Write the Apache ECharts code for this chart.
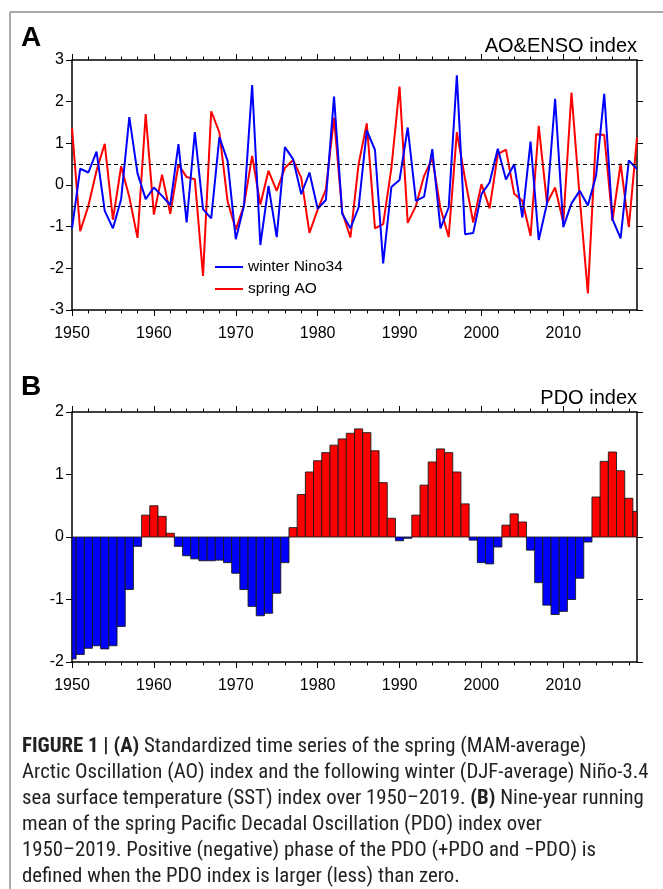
<!DOCTYPE html>
<html><head><meta charset="utf-8">
<script src="https://cdn.jsdelivr.net/npm/echarts@6/dist/echarts.min.js"></script>
<style>html,body{margin:0;padding:0;background:#fff}#chart{width:663px;height:889px}</style>
</head><body><div id="chart"></div>
<script>
// ---------- data ----------
const years = [1950,1951,1952,1953,1954,1955,1956,1957,1958,1959,
  1960,1961,1962,1963,1964,1965,1966,1967,1968,1969,
  1970,1971,1972,1973,1974,1975,1976,1977,1978,1979,
  1980,1981,1982,1983,1984,1985,1986,1987,1988,1989,
  1990,1991,1992,1993,1994,1995,1996,1997,1998,1999,
  2000,2001,2002,2003,2004,2005,2006,2007,2008,2009,
  2010,2011,2012,2013,2014,2015,2016,2017,2018,2019];

const winterNino34 = [-1.04,0.39,0.30,0.80,-0.62,-1.04,-0.34,1.63,0.28,-0.34,
  -0.06,-0.26,-0.48,0.98,-0.90,1.27,-0.58,-0.80,1.15,0.58,
  -1.30,-0.50,2.40,-1.44,-0.02,-1.25,0.91,0.62,-0.22,0.30,
  -0.57,-0.36,2.12,-0.69,-1.04,-0.54,1.31,0.84,-1.88,-0.05,
  0.12,1.38,-0.38,-0.28,0.86,-1.04,-0.54,2.63,-1.18,-1.15,
  -0.22,0.06,0.87,0.13,0.50,-0.78,1.04,-1.32,-0.45,2.07,
  -1.01,-0.44,-0.14,-0.49,0.22,2.19,-0.82,-1.28,0.59,0.38];

const springAO = [1.37,-1.11,-0.50,0.35,0.99,-0.83,0.45,-0.29,-1.27,1.70,
  -0.71,0.25,-0.69,0.49,0.19,0.14,-2.18,1.77,1.26,-0.39,
  -1.07,-0.49,0.70,-0.47,0.34,-0.14,0.41,0.60,0.17,-1.15,
  -0.59,-0.11,1.61,-0.65,-1.26,0.50,1.48,-1.04,-0.94,0.40,
  2.36,-0.91,-0.50,0.22,0.64,-0.56,-1.25,1.27,0.15,-0.90,
  0.02,-0.56,0.74,0.85,-0.21,-0.38,-1.22,1.42,-0.43,-0.06,
  -0.90,2.22,-0.30,-2.60,1.22,1.20,-0.86,0.51,-1.01,1.14];

const pdoIndex = [-1.95,-1.88,-1.78,-1.74,-1.79,-1.74,-1.43,-0.84,-0.15,0.35,
  0.50,0.33,0.06,-0.15,-0.30,-0.35,-0.38,-0.38,-0.37,-0.41,
  -0.58,-0.84,-1.11,-1.26,-1.22,-0.90,-0.41,0.15,0.68,1.04,
  1.22,1.35,1.47,1.57,1.66,1.73,1.67,1.38,0.87,0.30,
  -0.06,-0.02,0.35,0.83,1.20,1.41,1.35,1.04,0.53,-0.05,
  -0.41,-0.43,-0.16,0.19,0.37,0.24,-0.21,-0.73,-1.09,-1.24,
  -1.19,-1.00,-0.66,-0.08,0.64,1.21,1.36,1.06,0.62,0.41];

const majorYearTicks = [1950,1960,1970,1980,1990,2000,2010];
const minorYearTicks = [1952,1954,1956,1958,1962,1964,1966,1968,1972,1974,1976,1978,
  1982,1984,1986,1988,1992,1994,1996,1998,2002,2004,2006,2008,2012,2014,2016,2018];
const phaseLines = [0.5, -0.5];

const captionLines = [
  '{b|FIGURE 1 | (A)}{n| Standardized time series of the spring (MAM-average)}',
  '{n|Arctic Oscillation (AO) index and the following winter (DJF-average) Niño-3.4}',
  '{n|sea surface temperature (SST) index over 1950–2019. }{b|(B)}{n| Nine-year running}',
  '{n|mean of the spring Pacific Decadal Oscillation (PDO) index over}',
  '{n|1950–2019. Positive (negative) phase of the PDO (+PDO and −PDO) is}',
  '{n|defined when the PDO index is larger (less) than zero.}'
];

// ---------- chart ----------
const FONT = '"Liberation Sans", Arial, Helvetica, sans-serif';
const CAPFONT = '"Liberation Sans Narrow", "Arial Narrow", "Roboto Condensed", "Liberation Sans", sans-serif';
const CAPSIZE = 20.8;
const RED = '#ff0000', BLUE = '#0000ff';

function xAx(grid, pos, ticks, len, showLine, showLabel) {
  return {
    type: 'value', gridIndex: grid, position: pos, min: 1950, max: 2019,
    axisLine: {show: showLine, onZero: false, lineStyle: {color: '#000', width: 1.5}},
    axisTick: {show: true, inside: false, length: len, customValues: ticks, lineStyle: {color: '#000', width: 1}},
    axisLabel: {show: showLabel, customValues: ticks, margin: 16, color: '#000', fontSize: 16,
      fontFamily: FONT, formatter: v => String(v)},
    splitLine: {show: false}
  };
}
function yAx(grid, pos, mn, mx, showLabel) {
  return {
    type: 'value', gridIndex: grid, position: pos, min: mn, max: mx, interval: 1,
    axisLine: {show: true, onZero: false, lineStyle: {color: '#000', width: 1.5}},
    axisTick: {show: true, inside: false, length: 6, lineStyle: {color: '#000', width: 1}},
    axisLabel: {show: showLabel, margin: 8, color: '#000', fontSize: 16, fontFamily: FONT,
      formatter: v => String(v)},
    splitLine: {show: false}
  };
}

const graphics = [
  {type: 'line', shape: {x1: 10, y1: 12, x2: 663, y2: 12}, style: {stroke: '#8c8c8c', lineWidth: 1.5}},
  {type: 'line', shape: {x1: 10, y1: 12, x2: 10, y2: 889}, style: {stroke: '#8c8c8c', lineWidth: 1.5}},
  {type: 'text', x: 21, y: 38, style: {text: 'A', font: 'bold 28px ' + FONT, fill: '#000',
    align: 'left', verticalAlign: 'middle', textAlign: 'left', textVerticalAlign: 'middle'}},
  {type: 'text', x: 637, y: 46, style: {text: 'AO&ENSO index', font: '20px ' + FONT, fill: '#000',
    align: 'right', verticalAlign: 'middle', textAlign: 'right', textVerticalAlign: 'middle'}},
  {type: 'text', x: 21, y: 387, style: {text: 'B', font: 'bold 28px ' + FONT, fill: '#000',
    align: 'left', verticalAlign: 'middle', textAlign: 'left', textVerticalAlign: 'middle'}},
  {type: 'text', x: 637, y: 398, style: {text: 'PDO index', font: '20px ' + FONT, fill: '#000',
    align: 'right', verticalAlign: 'middle', textAlign: 'right', textVerticalAlign: 'middle'}}
];
captionLines.forEach((t, i) => {
  graphics.push({type: 'text', x: 22, y: 747 + i * 25.9, style: {
    text: t, fill: '#222', align: 'left', verticalAlign: 'middle', textAlign: 'left', textVerticalAlign: 'middle',
    fontSize: CAPSIZE, fontFamily: CAPFONT,
    rich: {
      b: {fontSize: CAPSIZE, fontFamily: CAPFONT, fontWeight: 'bold', fill: '#222', color: '#222'},
      n: {fontSize: CAPSIZE, fontFamily: CAPFONT, fontWeight: 'normal', fill: '#222', color: '#222'}
    }
  }});
});

const chart = echarts.init(document.getElementById('chart'), null, {renderer: 'canvas'});
chart.setOption({
  animation: false,
  backgroundColor: '#fff',
  grid: [
    {left: 72, top: 60, width: 565, height: 250, outerBoundsMode: 'none', containLabel: false},
    {left: 72, top: 412, width: 565, height: 250, outerBoundsMode: 'none', containLabel: false}
  ],
  xAxis: [
    xAx(0, 'bottom', majorYearTicks, 6, true, true),
    xAx(0, 'bottom', minorYearTicks, 3.5, false, false),
    xAx(0, 'top', majorYearTicks, 6, true, false),
    xAx(0, 'top', minorYearTicks, 3.5, false, false),
    xAx(1, 'bottom', majorYearTicks, 6, true, true),
    xAx(1, 'bottom', minorYearTicks, 3.5, false, false),
    xAx(1, 'top', majorYearTicks, 6, true, false),
    xAx(1, 'top', minorYearTicks, 3.5, false, false)
  ],
  yAxis: [
    yAx(0, 'left', -3, 3, true),
    yAx(0, 'right', -3, 3, false),
    yAx(1, 'left', -2, 2, true),
    yAx(1, 'right', -2, 2, false)
  ],
  legend: {
    show: true, orient: 'vertical', left: 215, top: 259, icon: 'rect', itemWidth: 28, itemHeight: 2, itemGap: 6,
    data: ['winter Nino34', 'spring AO'],
    textStyle: {color: '#000', fontSize: 15.5, fontFamily: FONT},
    backgroundColor: 'transparent', padding: 0
  },
  series: [
    {
      name: 'spring AO', type: 'line', xAxisIndex: 0, yAxisIndex: 0,
      data: years.map((y, i) => [y, springAO[i]]),
      symbol: 'none', showSymbol: false, lineStyle: {color: RED, width: 2}, itemStyle: {color: RED},
      markLine: {
        silent: true, symbol: 'none', label: {show: false},
        lineStyle: {color: '#000', width: 1.2, type: [4, 3]},
        data: phaseLines.map(v => ({yAxis: v}))
      }
    },
    {
      name: 'winter Nino34', type: 'line', xAxisIndex: 0, yAxisIndex: 0,
      data: years.map((y, i) => [y, winterNino34[i]]),
      symbol: 'none', showSymbol: false, lineStyle: {color: BLUE, width: 2}, itemStyle: {color: BLUE}
    },
    {
      name: 'PDO index', type: 'custom', xAxisIndex: 4, yAxisIndex: 2,
      data: years.map((y, i) => [y, pdoIndex[i]]),
      encode: {x: 0, y: 1},
      renderItem: function (params, api) {
        const yr = api.value(0), v = api.value(1);
        const p0 = api.coord([yr - 0.5, 0]);
        const p1 = api.coord([yr + 0.5, v]);
        const rect = echarts.graphic.clipRectByRect({
          x: p0[0], y: Math.min(p0[1], p1[1]),
          width: p1[0] - p0[0], height: Math.abs(p1[1] - p0[1])
        }, {x: params.coordSys.x, y: params.coordSys.y, width: params.coordSys.width, height: params.coordSys.height});
        if (!rect) return null;
        return {type: 'rect', shape: rect,
          style: {fill: v >= 0 ? RED : BLUE, stroke: '#1a1a1a', lineWidth: 0.9}};
      }
    }
  ],
  graphic: graphics
});
</script></body></html>
